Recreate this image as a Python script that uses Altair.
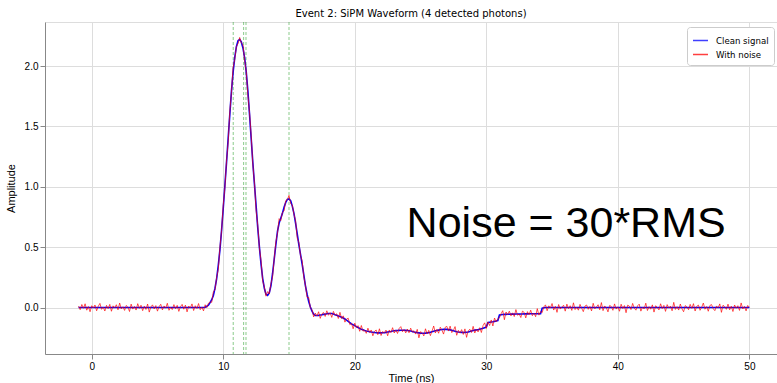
import numpy as np
import pandas as pd
import altair as alt

# ---- data ----
time_ns = np.round(np.arange(-1.0, 50.0001, 0.125), 3)

# clean waveform, 0.125 ns steps: -1.0..7.875 flat, 8.0..34.875 pulse, 35.0..50.0 flat
pulse_segment = [
    0.0, 0.0, 0.0, 0.0, 0.0, 0.002, 0.01, 0.02,                    # 8
    0.04, 0.065, 0.10, 0.16, 0.24, 0.35, 0.48, 0.64,                # 9
    0.82, 1.01, 1.20, 1.40, 1.60, 1.79, 1.95, 2.07,                 # 10
    2.16, 2.21, 2.22, 2.20, 2.15, 2.07, 1.95, 1.79,                 # 11
    1.60, 1.40, 1.20, 1.02, 0.84, 0.66, 0.50, 0.36,                 # 12
    0.24, 0.16, 0.11, 0.10, 0.12, 0.18, 0.28, 0.40,                 # 13
    0.52, 0.63, 0.70, 0.74, 0.78, 0.83, 0.87, 0.895,                # 14
    0.90, 0.885, 0.84, 0.78, 0.70, 0.61, 0.52, 0.44,                # 15
    0.36, 0.27, 0.18, 0.11, 0.05, 0.005, -0.03, -0.055,             # 16
    -0.065, -0.066, -0.065, -0.062, -0.06, -0.057, -0.055, -0.052,  # 17
    -0.05, -0.049, -0.05, -0.054, -0.06, -0.065, -0.07, -0.075,     # 18
    -0.08, -0.087, -0.095, -0.105, -0.115, -0.125, -0.135, -0.143,  # 19
    -0.15, -0.158, -0.165, -0.173, -0.18, -0.185, -0.19, -0.194,    # 20
    -0.197, -0.2, -0.203, -0.205, -0.207, -0.209, -0.21, -0.21,     # 21
    -0.21, -0.209, -0.208, -0.206, -0.203, -0.2, -0.198, -0.195,    # 22
    -0.193, -0.191, -0.19, -0.189, -0.188, -0.188, -0.188, -0.189,  # 23
    -0.19, -0.192, -0.195, -0.198, -0.202, -0.205, -0.208, -0.21,   # 24
    -0.212, -0.213, -0.213, -0.212, -0.21, -0.208, -0.205, -0.201,  # 25
    -0.197, -0.193, -0.19, -0.187, -0.184, -0.182, -0.181, -0.18,   # 26
    -0.181, -0.183, -0.185, -0.188, -0.192, -0.196, -0.2, -0.203,   # 27
    -0.205, -0.206, -0.207, -0.206, -0.205, -0.202, -0.198, -0.194, # 28
    -0.19, -0.187, -0.185, -0.183, -0.18, -0.176, -0.172, -0.167,   # 29
    -0.162, -0.124, -0.122, -0.12, -0.118, -0.115, -0.112, -0.108,  # 30
    -0.062, -0.06, -0.058, -0.057, -0.057, -0.056, -0.056, -0.055,  # 31
    -0.055, -0.055, -0.054, -0.054, -0.055, -0.054, -0.054, -0.053, # 32
    -0.053, -0.053, -0.052, -0.052, -0.052, -0.052, -0.051, -0.051, # 33
    -0.051, -0.051, -0.005, -0.002, 0.0, 0.0, 0.0, 0.0,             # 34
]
clean_signal = [0.0] * 72 + pulse_segment + [0.0] * 121

noise = [
    0.012, -0.018, 0.025, -0.006, 0.031, -0.022, 0.008, -0.035, 0.015, -0.004,
    0.021, -0.027, 0.010, 0.034, -0.015, 0.003, -0.029, 0.018, -0.009, 0.026,
    -0.031, 0.014, -0.002, 0.023, -0.019, 0.037, -0.011, 0.006, -0.024, 0.017,
    0.004, -0.033, 0.028, -0.013, 0.009, -0.021, 0.032, -0.007, 0.019, -0.026,
    0.011, -0.016, 0.029, -0.038, 0.005, 0.022, -0.012, 0.016, -0.030, 0.008,
    0.027, -0.020, 0.013, -0.005, 0.035, -0.023, 0.002, -0.017, 0.024, -0.010,
    0.018, -0.032, 0.007, 0.026, -0.014, 0.020, -0.036, 0.012, -0.003, 0.030,
    -0.025, 0.015, -0.008, 0.033, -0.018, 0.004, -0.028, 0.021, -0.011, 0.016,
    0.006, -0.022, 0.031, -0.013, 0.010, -0.034, 0.019, -0.002, 0.025, -0.017,
    0.013, -0.029, 0.022, -0.006, 0.038, -0.015, 0.001, -0.024, 0.017, -0.009,
    0.028, -0.019, 0.005, -0.031, 0.014, 0.023, -0.012, 0.009, -0.037, 0.020,
    -0.004, 0.026, -0.021, 0.011, -0.016, 0.032, -0.008, 0.017, -0.027, 0.003,
    0.024, -0.013, 0.036, -0.020, 0.007, -0.030, 0.015, -0.002, 0.029, -0.024,
    0.010, -0.007, 0.021, -0.035, 0.018, -0.011, 0.027, -0.016, 0.004, -0.026,
    0.033, -0.010, 0.012, -0.023, 0.019, -0.005, 0.030, -0.028, 0.008, 0.016,
    -0.019, 0.025, -0.014, 0.006, -0.032, 0.022, -0.003, 0.013, -0.021, 0.035,
    -0.012, 0.018, -0.026, 0.009, 0.027, -0.017, 0.004, -0.033, 0.020, -0.008,
    0.015, -0.024, 0.031, -0.011, 0.002, -0.020, 0.026, -0.006, 0.017, -0.029,
    0.009, 0.023, -0.015, 0.034, -0.022, 0.011, -0.004, 0.019, -0.031, 0.014,
    -0.009, 0.028, -0.018, 0.005, -0.025, 0.016, 0.030, -0.013, 0.007, -0.021,
    0.012, -0.017, 0.024, -0.006, 0.010,
    -0.015, 0.027, -0.041, 0.012, 0.003, -0.022, 0.036, -0.009, 0.019, -0.028,
    0.007, 0.044, -0.018, 0.010, -0.026, 0.021, -0.005, -0.039, 0.016, 0.025,
    -0.012, 0.031, -0.020, 0.002, 0.038, -0.030, 0.014, -0.007, 0.023, -0.016,
    0.029, -0.042, 0.009, 0.018, -0.013, 0.034, -0.024, 0.006, -0.019, 0.013,
    -0.031, 0.022, 0.040, -0.011, 0.004, -0.027, 0.017, -0.035, 0.028, -0.006,
    0.015, -0.023, 0.009, 0.032, -0.044, 0.020, -0.003, 0.026, -0.014, 0.011,
    -0.020, 0.037, -0.010, 0.001, -0.029, 0.024, 0.013, -0.033, 0.019, -0.008,
    0.030, -0.016, 0.006, -0.025, 0.042, -0.012, 0.018, -0.037, 0.008, 0.022,
    -0.027, 0.014, -0.004, 0.033, -0.021, 0.010, -0.040, 0.025, -0.013, 0.005,
    0.019, -0.030, 0.028, -0.009, 0.015, -0.024, 0.039, -0.017, 0.003, -0.022,
    0.026, -0.006, -0.034, 0.012, 0.021, -0.015, 0.008, -0.028, 0.035, -0.011,
    0.004, 0.023, -0.019, 0.041, -0.026, 0.013, -0.002, -0.036, 0.017, 0.009,
    -0.023, 0.030, -0.013, 0.006, -0.031, 0.027, -0.008, 0.016, -0.043, 0.020,
    0.011, -0.017, 0.034, -0.005, -0.022, 0.014, 0.028, -0.030, 0.002, -0.012,
    0.036, -0.025, 0.007, -0.014, 0.022, -0.038, 0.015, 0.001, -0.020, 0.031,
    -0.009, 0.018, -0.032, 0.024, -0.004, 0.012, -0.027, 0.043, -0.016, 0.007,
    -0.021, 0.029, -0.011, -0.035, 0.016, 0.005, -0.018, 0.026, -0.007, 0.032,
    -0.029, 0.010, 0.020, -0.023, 0.003, 0.037, -0.014, 0.008, -0.031, 0.017,
    0.024, -0.010, -0.026, 0.013, -0.002, 0.030, -0.040, 0.019, 0.006, -0.015,
    0.028, -0.019, 0.011, -0.033, 0.021, -0.006, 0.015, -0.024, 0.038, -0.012,
    0.009, -0.028, 0.017, 0.002,
]

photon_times = [10.76, 11.55, 11.73, 15.0]

x_ticks = [0, 10, 20, 30, 40, 50]
y_ticks = [0.0, 0.5, 1.0, 1.5, 2.0]

series_names = ["Clean signal", "With noise"]
series_colors = ["#0000ff", "#ff0000"]

title_text = "Event 2: SiPM Waveform (4 detected photons)"
annotation_text = "Noise = 30*RMS"
annotation_pos = (36.07, 0.584)

# ---- tables ----
n = min(len(time_ns), len(clean_signal), len(noise))
clean_df = pd.DataFrame({
    "t": time_ns[:n],
    "value": clean_signal[:n],
    "series": series_names[0],
})
noisy_df = pd.DataFrame({
    "t": time_ns[:n],
    "value": np.array(clean_signal[:n]) + np.array(noise[:n]),
    "series": series_names[1],
})
photons = pd.DataFrame({"t": photon_times})
annot = pd.DataFrame({"x": [annotation_pos[0]], "y": [annotation_pos[1]], "label": [annotation_text]})

FONT = "DejaVu Sans"

xscale = alt.Scale(domain=[-3.55, 52.1], nice=False, zero=False)
yscale = alt.Scale(domain=[-0.385, 2.365], nice=False, zero=False)

xaxis = alt.Axis(values=x_ticks, format="d", title="Time (ns)", grid=True,
                 titleFontWeight="normal", titlePadding=1)
yaxis = alt.Axis(values=y_ticks, format=".1f", title="Amplitude", grid=True,
                 titleFontWeight="normal", titlePadding=8)

color_scale = alt.Scale(domain=series_names, range=series_colors)
legend = alt.Legend(
    title=None, orient="none", legendX=642, legendY=5,
    symbolType="stroke", symbolSize=225, symbolStrokeWidth=1.5,
    labelFontSize=8.6, labelFont=FONT, labelColor="#000000",
    fillColor="white", strokeColor="#cccccc", padding=5, cornerRadius=3,
    rowPadding=0, labelOffset=7,
)

clean_line = alt.Chart(clean_df).mark_line(strokeWidth=1.6, clip=True).encode(
    x=alt.X("t:Q", scale=xscale, axis=xaxis),
    y=alt.Y("value:Q", scale=yscale, axis=yaxis),
    color=alt.Color("series:N", scale=color_scale, legend=legend),
)

noisy_line = alt.Chart(noisy_df).mark_line(strokeWidth=0.9, opacity=0.75, clip=True).encode(
    x=alt.X("t:Q", scale=xscale),
    y=alt.Y("value:Q", scale=yscale),
    color=alt.Color("series:N", scale=color_scale, legend=legend),
)

vlines = alt.Chart(photons).mark_rule(
    color="#2ca02c", opacity=0.55, strokeWidth=1, strokeDash=[3, 2]
).encode(x=alt.X("t:Q", scale=xscale))

text = alt.Chart(annot).mark_text(
    font="Liberation Sans", fontSize=43, align="center", baseline="alphabetic", color="black"
).encode(
    x=alt.X("x:Q", scale=xscale),
    y=alt.Y("y:Q", scale=yscale),
    text="label:N",
)

chart = alt.layer(vlines, clean_line, noisy_line, text).properties(
    width=732,
    height=332,
    title=alt.TitleParams(title_text, font=FONT, fontSize=10, fontWeight="normal",
                          anchor="middle", offset=3, color="#000000"),
    autosize=alt.AutoSizeParams(type="none"),
    padding={"left": 45, "top": 22, "right": 0, "bottom": 29},
).configure_view(
    stroke="#333333", strokeWidth=1
).configure_axis(
    labelFont=FONT, titleFont=FONT, labelFontSize=8, titleFontSize=8,
    labelColor="#222222", titleColor="#000000", titleFontWeight="normal",
    gridColor="#ededed", gridWidth=0.8, domain=False,
    tickColor="#333333", tickSize=3.5, tickWidth=0.8, labelPadding=3,
).configure(background="white")

chart.save("out.html", embed_options={"renderer": "svg", "actions": False})
